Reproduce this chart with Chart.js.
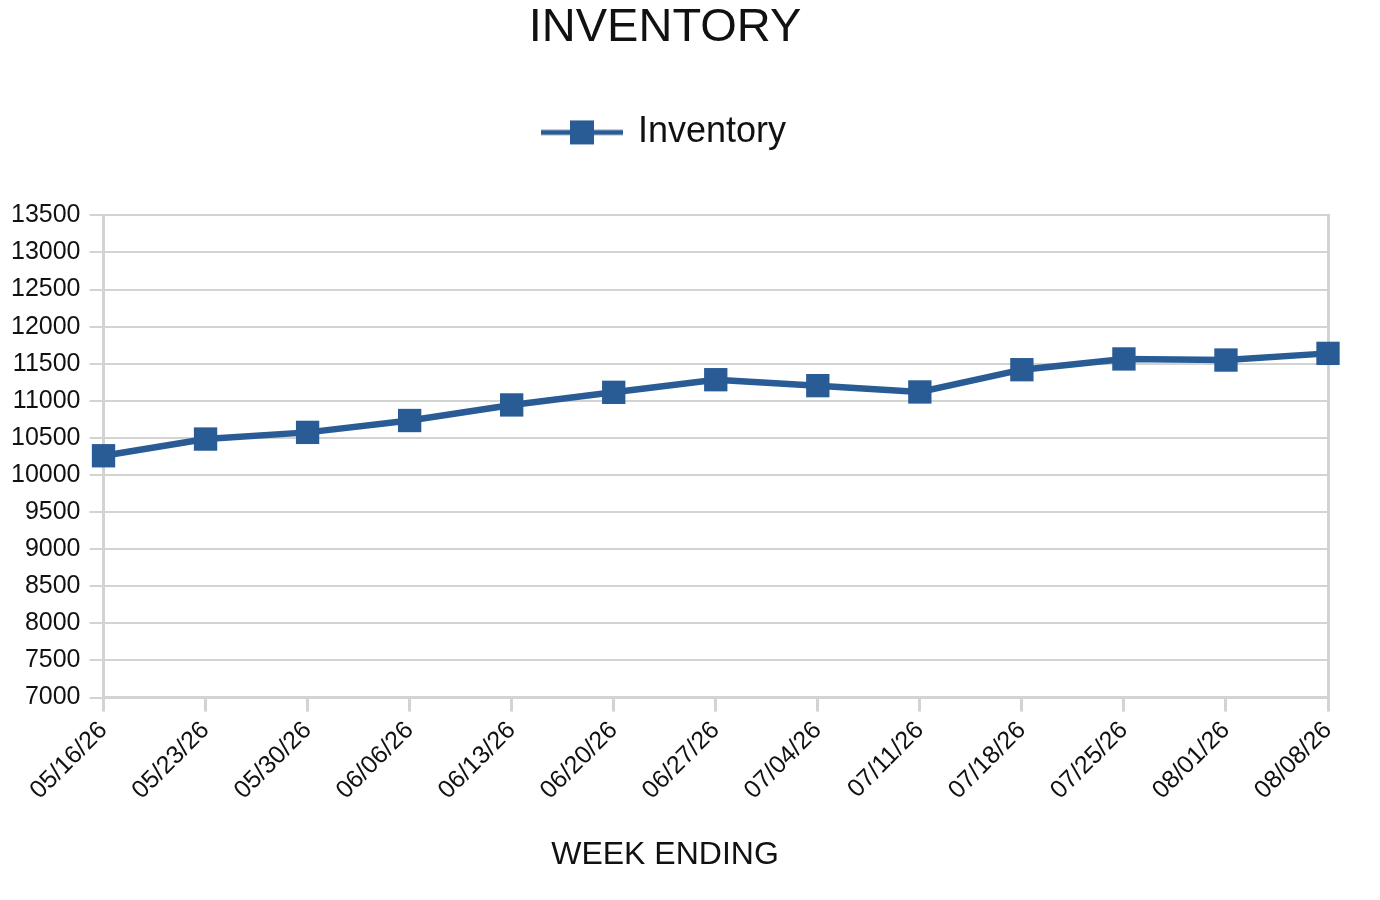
<!DOCTYPE html>
<html>
<head>
<meta charset="utf-8">
<title>Inventory</title>
<script src="https://cdn.jsdelivr.net/npm/chart.js@4"></script>
<style>
  html, body { margin: 0; padding: 0; background: #fff; }
  .chart-container { position: relative; width: 1380px; height: 900px; }
</style>
</head>
<body>
<div class="chart-container"><canvas id="inventoryChart" width="1380" height="900"></canvas></div>
<script>
const weeks = ["05/16/26", "05/23/26", "05/30/26", "06/06/26", "06/13/26", "06/20/26", "06/27/26",
               "07/04/26", "07/11/26", "07/18/26", "07/25/26", "08/01/26", "08/08/26"];
const inventory = [10260, 10485, 10575, 10735, 10945, 11115, 11285, 11205, 11120, 11420, 11565, 11550, 11640];
const yMin = 7000;
const yMax = 13500;
const yStep = 500;

const blue = "#295b95";
const grey = "#d3d3d3";
const textColor = "#111";
const font = "'Liberation Sans', Arial, Helvetica, sans-serif";

// legend icon: line with a square in the middle
function legendIcon() {
    const c = document.createElement("canvas");
    c.width = 84;
    c.height = 26;
    const g = c.getContext("2d");
    g.strokeStyle = blue;
    g.lineWidth = 5;
    g.beginPath();
    g.moveTo(1, 13);
    g.lineTo(83, 13);
    g.stroke();
    g.fillStyle = blue;
    g.fillRect(30, 1, 24, 24);
    return c;
}

// extra space between the legend and the plot
const legendGap = {
    id: "legendGap",
    beforeInit(chart) {
        const fit = chart.legend.fit;
        chart.legend.fit = function () {
            fit.call(this);
            this.height += 55;
        };
    },
};

const ctx = document.getElementById("inventoryChart").getContext("2d");
const icon = legendIcon();

new Chart(ctx, {
    type: "line",
    data: {
        labels: weeks,
        datasets: [{
            label: "Inventory",
            data: inventory,
            borderColor: blue,
            backgroundColor: blue,
            borderWidth: 6.5,
            pointStyle: "rect",
            pointRadius: 16.5,
            pointHoverRadius: 16.5,
            pointBackgroundColor: blue,
            pointBorderWidth: 0,
            tension: 0,
            clip: false,
        }],
    },
    plugins: [legendGap],
    options: {
        responsive: false,
        animation: false,
        devicePixelRatio: 1,
        layout: {
            padding: { top: 0, left: 2, right: 52, bottom: 20 }
        },
        plugins: {
            title: {
                display: true,
                text: "INVENTORY",
                color: textColor,
                font: { family: font, size: 47, weight: "normal" },
                padding: { top: 0, bottom: 48 },
            },
            subtitle: {
                display: true,
                position: "bottom",
                text: "WEEK ENDING",
                color: textColor,
                font: { family: font, size: 32 },
                padding: { top: 26, bottom: 6 },
            },
            legend: {
                position: "top",
                labels: {
                    color: textColor,
                    font: { family: font, size: 36 },
                    usePointStyle: true,
                    pointStyleWidth: 76,
                    padding: 10,
                    generateLabels: () => [{
                        text: "Inventory",
                        pointStyle: icon,
                        fillStyle: blue,
                        strokeStyle: blue,
                        lineWidth: 0,
                        datasetIndex: 0,
                        fontColor: textColor,
                    }],
                },
            },
            tooltip: { enabled: false },
        },
        scales: {
            x: {
                offset: false,
                grid: {
                    display: true,
                    drawOnChartArea: false,
                    color: grey,
                    lineWidth: 3,
                    tickLength: 14,
                },
                border: { display: true, color: grey, width: 3 },
                ticks: {
                    color: textColor,
                    font: { family: font, size: 25 },
                    minRotation: 45,
                    maxRotation: 45,
                    autoSkip: false,
                    padding: 4,
                },
            },
            y: {
                min: yMin,
                max: yMax,
                grid: {
                    color: grey,
                    lineWidth: 2,
                    tickLength: 14,
                },
                border: { display: true, color: grey, width: 3 },
                ticks: {
                    stepSize: yStep,
                    color: textColor,
                    font: { family: font, size: 25 },
                    padding: 9,
                    callback: (value) => String(value),
                },
            },
            yRight: {
                position: "right",
                min: yMin,
                max: yMax,
                grid: { display: false, drawTicks: false, tickLength: 0 },
                border: { display: true, color: grey, width: 3 },
                ticks: { display: false },
            },
        },
    },
});
</script>
</body>
</html>
